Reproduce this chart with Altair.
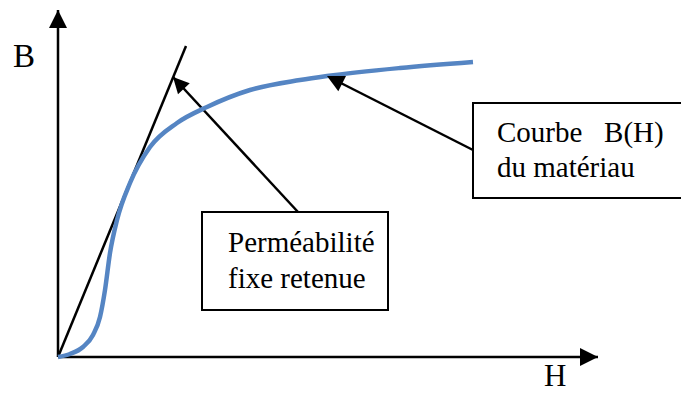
import altair as alt
import pandas as pd
import numpy as np

# ---- data (drawing units: H to the right, B upward, origin at the axes corner)
curve_H = [0, 12, 25, 35, 42, 47, 52, 59, 72, 92, 119, 149, 192, 242, 269, 342, 415]
curve_B = [0, 3, 10, 22, 40, 67, 104, 137, 174, 210, 234, 250, 267, 277, 281, 289, 295]

perm_H = [0, 128]          # fixed permeability straight line
perm_B = [0, 311]

# arrows: start -> tip  (two axes, two annotation arrows)
arrow_H0 = [0, 0, 240, 415]
arrow_B0 = [0, 0, 145, 207]
arrow_H1 = [0, 540, 115, 269]
arrow_B1 = [347, 0, 280, 281]
arrow_head = [324, 324, 256, 289]

# annotation boxes
box_H0 = [144, 415]
box_H1 = [330, 629]
box_B0 = [47, 159]
box_B1 = [145, 254]

# labels
label_text = ["B", "H", "Perméabilité", "fixe retenue",
              "Courbe\u00a0\u00a0\u00a0B(H)", "du matériau"]
label_H = [-45, 486, 170, 170, 439, 439]
label_B = [290, -29, 105, 69, 215, 180]
label_size = [33, 31, 29, 29, 29, 29]

# ---- tables
curve = pd.DataFrame({"H": curve_H, "B": curve_B})
perm = pd.DataFrame({"H": perm_H, "B": perm_B})
dH = np.array(arrow_H1) - np.array(arrow_H0)
dB = np.array(arrow_B1) - np.array(arrow_B0)
arrows = pd.DataFrame({
    "h0": arrow_H0, "b0": arrow_B0, "h1": arrow_H1, "b1": arrow_B1,
    "size": arrow_head,
    "angle": np.mod(np.degrees(np.arctan2(dH, dB)), 360),
})
boxes = pd.DataFrame({"h0": box_H0, "h1": box_H1, "b0": box_B0, "b1": box_B1})
labels = pd.DataFrame({"t": label_text, "H": label_H, "B": label_B, "s": label_size})

W, Hgt = 673, 389
xs = alt.Scale(domain=[-50, 623], zero=False, nice=False)
ys = alt.Scale(domain=[-40, 349], zero=False, nice=False)

axis_lines = alt.Chart(arrows).mark_rule(color="black", strokeWidth=2.5, strokeCap="butt").encode(
    x=alt.X("h0:Q", scale=xs, axis=None), x2="h1:Q",
    y=alt.Y("b0:Q", scale=ys, axis=None), y2="b1:Q",
)

perm_line = alt.Chart(perm).mark_line(color="black", strokeWidth=2.5).encode(
    x=alt.X("H:Q", scale=xs, axis=None), y=alt.Y("B:Q", scale=ys, axis=None)
)

bh_curve = alt.Chart(curve).mark_line(color="#5585C3", strokeWidth=4.5, interpolate="monotone").encode(
    x=alt.X("H:Q", scale=xs, axis=None), y=alt.Y("B:Q", scale=ys, axis=None)
)

rects = alt.Chart(boxes).mark_rect(fill="white", stroke="black", strokeWidth=2).encode(
    x=alt.X("h0:Q", scale=xs, axis=None), x2="h1:Q",
    y=alt.Y("b0:Q", scale=ys, axis=None), y2="b1:Q",
)

heads = alt.Chart(arrows).mark_point(
    shape="M0,0L-1,2L1,2Z", filled=True, fill="black", stroke=None, opacity=1
).encode(
    x=alt.X("h1:Q", scale=xs, axis=None), y=alt.Y("b1:Q", scale=ys, axis=None),
    angle=alt.Angle("angle:Q", scale=None),
    size=alt.Size("size:Q", scale=None),
)

texts = alt.Chart(labels).mark_text(
    font="Liberation Serif", align="left", baseline="alphabetic", color="black"
).encode(
    x=alt.X("H:Q", scale=xs, axis=None), y=alt.Y("B:Q", scale=ys, axis=None),
    text="t:N", size=alt.Size("s:Q", scale=None),
)

chart = alt.layer(axis_lines, perm_line, bh_curve, rects, heads, texts).properties(
    width=W, height=Hgt, autosize=alt.AutoSizeParams(type="none"), padding=0
).configure_view(stroke=None)

chart.save("out.html", embed_options={"renderer": "svg", "actions": False})
